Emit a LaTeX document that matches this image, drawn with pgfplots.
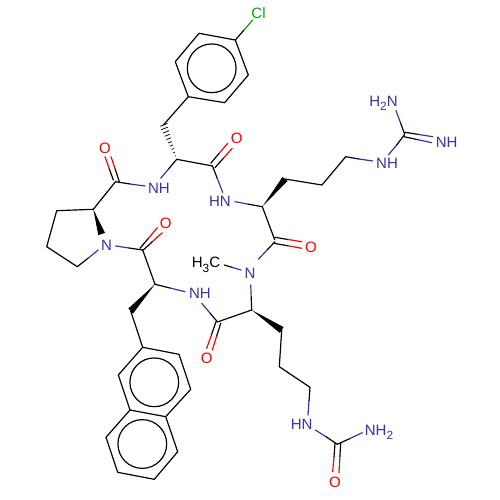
\documentclass[border=0pt]{standalone}
\usepackage{fontspec}
\setmainfont{Liberation Sans}
\usepackage{pgfplots}
\pgfplotsset{compat=1.18}
\definecolor{atomN}{RGB}{51,51,170}
\definecolor{atomO}{RGB}{255,0,0}
\definecolor{atomCl}{RGB}{0,170,0}
\pgfplotsset{
  bk/.style={black,line width=0.95pt,line cap=round,line join=round},
  bl/.style={atomN,line width=0.95pt,line cap=round},
  rd/.style={atomO,line width=0.95pt,line cap=round},
  gr/.style={atomCl,line width=0.95pt,line cap=round},
  hs/.style={black,line width=0.6pt},
  wedge/.style={black,fill=black,draw=none},
  ring/.style={only marks,mark=o,mark size=#1,mark options={black,line width=0.95pt}},
}
\newcommand{\lab}[4]{\node[text=#3,anchor=base,inner sep=0pt,font=\fontsize{12}{12}\selectfont] at (axis cs:#1,#2) {#4};}
\newcommand{\sub}[1]{\raisebox{-0.28em}{\fontsize{9.5}{10}\selectfont #1}}
\begin{document}
\begin{tikzpicture}
\begin{axis}[
  scale only axis, width=400pt, height=400pt,
  xmin=0, xmax=500, ymin=0, ymax=500, y dir=reverse,
  hide axis, clip=false
]
% keeps the page at the full 500x500 frame
\path (axis cs:0,0) rectangle (axis cs:500,500);
% chlorophenyl
\addplot[bk] coordinates {(235.3,40) (199,33.3) (175.3,61.7) (188.3,96.7) (224.7,102.7) (248.3,75) (235.3,40)};
\addplot[ring=19.5pt] coordinates {(211.7,68.3)};
\addplot[bk] coordinates {(235.3,40) (244,30)};
\addplot[gr] coordinates {(244,30) (252.7,20)};
\lab{258.5}{18.7}{atomCl}{Cl}
% CH2 and hashed bond
\addplot[bk] coordinates {(188.3,96.7) (163.4,125)};
\addplot[hs] coordinates {(175.0,156.0) (175.8,155.7)};
\addplot[hs] coordinates {(173.3,152.7) (174.8,152.1)};
\addplot[hs] coordinates {(171.6,149.4) (173.8,148.6)};
\addplot[hs] coordinates {(169.8,146.2) (172.8,145.0)};
\addplot[hs] coordinates {(168.1,142.9) (171.9,141.5)};
\addplot[hs] coordinates {(166.5,139.6) (170.9,137.8)};
\addplot[hs] coordinates {(164.7,136.3) (169.9,134.3)};
\addplot[hs] coordinates {(163.0,133.1) (169.0,130.7)};
\addplot[hs] coordinates {(161.2,129.7) (168.0,127.1)};
\addplot[hs] coordinates {(160.2,126.3) (167.6,123.3)};
% first amide C=O and HN
\addplot[bk] coordinates {(176.7,159.3) (212.5,166)};
\addplot[bk] coordinates {(210.7,163.3) (219.2,153.3)};
\addplot[rd] coordinates {(219.2,153.3) (227.7,143.3)};
\addplot[bk] coordinates {(215,167.7) (223.6,158)};
\addplot[rd] coordinates {(223.6,158) (232.3,148.3)};
\lab{236.7}{143.6}{atomO}{O}
\addplot[bk] coordinates {(212.5,166) (217.3,178.5)};
\addplot[bl] coordinates {(217.3,178.5) (222.7,192.3)};
\lab{220}{206.3}{atomN}{HN}
\addplot[bl] coordinates {(235,201.7) (248.5,204.2)};
\addplot[bk] coordinates {(248.5,204.2) (262.3,206.7)};
% guanidine chain
\addplot[wedge] coordinates {(262.3,206.7) (287.5,181) (282.5,177) (262.3,206.7)};
\addplot[bk] coordinates {(285,179) (322,185) (345.7,156.7) (359,159)};
\addplot[bl] coordinates {(359,159) (372.7,161)};
\lab{387}{168.6}{atomN}{NH}
\addplot[bl] coordinates {(388.3,155) (396.7,145)};
\addplot[bk] coordinates {(396.7,145) (404.7,134.3)};
\addplot[bl] coordinates {(396,110.7) (400.7,123.3)};
\addplot[bk] coordinates {(400.7,123.3) (404.7,134.3)};
\lab{383.5}{106}{atomN}{H\sub{2}N}
\addplot[bk] coordinates {(405,132.3) (419,134.5)};
\addplot[bl] coordinates {(419,134.5) (432.7,136.7)};
\addplot[bk] coordinates {(404,136.7) (418,139.7)};
\addplot[bl] coordinates {(418,139.7) (431.7,142.7)};
\lab{446.7}{147}{atomN}{NH}
% second carbonyl and N-methyl
\addplot[bk] coordinates {(262.3,206.7) (274.7,239.7)};
\addplot[bk] coordinates {(275,237.3) (288,239.5)};
\addplot[rd] coordinates {(288,239.5) (301.7,241.7)};
\addplot[bk] coordinates {(274,243.3) (288,245.8)};
\addplot[rd] coordinates {(288,245.8) (301.7,248.3)};
\lab{311}{252}{atomO}{O}
\addplot[bk] coordinates {(275,241.7) (266.6,250.5)};
\addplot[bl] coordinates {(266.6,250.5) (258.3,259.3)};
\lab{250}{278.6}{atomN}{N}
\addplot[bk] coordinates {(224.3,265) (232.6,267.5)};
\addplot[bl] coordinates {(232.6,267.5) (241,270)};
\lab{206}{267.8}{black}{H\sub{3}C}
\addplot[bl] coordinates {(250.7,285) (251.2,297)};
\addplot[bk] coordinates {(251.2,297) (251.7,310)};
% urea chain
\addplot[wedge] coordinates {(251.7,310) (279.8,332.9) (283.6,327.1) (251.7,310)};
\addplot[bk] coordinates {(281.7,330) (279.3,366.7) (310,387.3) (309,401)};
\addplot[bl] coordinates {(309,401) (308,415)};
\lab{301.7}{429.7}{atomN}{HN}
\addplot[bl] coordinates {(315.3,430) (326,436.7)};
\addplot[bk] coordinates {(326,436.7) (337.3,444.3)};
\addplot[bk] coordinates {(337.3,444.3) (350,438.5)};
\addplot[bl] coordinates {(350,438.5) (362.3,432.7)};
\lab{379}{435.5}{atomN}{NH\sub{2}}
\addplot[bk] coordinates {(335,443.3) (334,457)};
\addplot[rd] coordinates {(334,457) (332.7,471.7)};
\addplot[bk] coordinates {(340.7,443.3) (339.9,457)};
\addplot[rd] coordinates {(339.9,457) (339,472.7)};
\lab{335}{487}{atomO}{O}
% third carbonyl
\addplot[bk] coordinates {(251.7,310) (217.3,322)};
\addplot[bk] coordinates {(216,321.7) (211.4,335)};
\addplot[rd] coordinates {(211.4,335) (206.7,348.3)};
\addplot[bk] coordinates {(220.7,323.3) (216.5,336.6)};
\addplot[rd] coordinates {(216.5,336.6) (212.3,350)};
\lab{206.7}{363.6}{atomO}{O}
\addplot[bk] coordinates {(217.3,321.7) (209.5,312.5)};
\addplot[bl] coordinates {(209.5,312.5) (201.7,303.3)};
\lab{200}{298.6}{atomN}{NH}
\addplot[bl] coordinates {(185,291.7) (170,288)};
\addplot[bk] coordinates {(170,288) (155,284.3)};
% naphthyl
\addplot[wedge] coordinates {(155,284.3) (133,313.6) (128.4,308.4) (155,284.3)};
\addplot[bk] coordinates {(130.7,311) (142.7,347.3)};
\addplot[bk] coordinates {(142.7,347.3) (179,354.3) (190.7,389.3) (165.7,416.7) (130,410) (118.3,375) (142.7,347.3)};
\addplot[bk] coordinates {(130,410) (106,437.3) (117.7,472.3) (154.3,479.3) (177.7,451.7) (165.7,416.7)};
\addplot[ring=19.5pt] coordinates {(154.3,382.3)};
\addplot[ring=19.5pt] coordinates {(142.3,444)};
% fourth carbonyl, proline N
\addplot[bk] coordinates {(155,284.3) (142.7,250)};
\addplot[bk] coordinates {(140,248.3) (148.7,238)};
\addplot[rd] coordinates {(148.7,238) (157.3,227.7)};
\addplot[bk] coordinates {(143.3,250) (152.8,241.3)};
\addplot[rd] coordinates {(152.8,241.3) (162.3,232.7)};
\lab{165.7}{228}{atomO}{O}
\addplot[bl] coordinates {(115.7,246) (129,248)};
\addplot[bk] coordinates {(129,248) (142.7,250)};
\lab{106.5}{250.3}{atomN}{N}
% proline ring
\addplot[wedge] coordinates {(93.3,209.3) (105,232.9) (98.3,235.1) (93.3,209.3)};
\addplot[bk] coordinates {(93.3,209.3) (56.7,210.7) (46.7,246.7) (77.3,266.7) (88,258.3)};
\addplot[bl] coordinates {(88,258.3) (98.3,250)};
% last amide
\addplot[bk] coordinates {(93.3,209.3) (115.5,181.7)};
\addplot[bk] coordinates {(113.3,180) (109.2,168.5)};
\addplot[rd] coordinates {(109.2,168.5) (105,156.7)};
\addplot[bk] coordinates {(119.3,181.7) (115.2,169)};
\addplot[rd] coordinates {(115.2,169) (111,156.7)};
\lab{105}{153}{atomO}{O}
\addplot[bk] coordinates {(115.5,181.7) (130,184)};
\addplot[bl] coordinates {(130,184) (145,186)};
\lab{159}{193}{atomN}{NH}
\addplot[bl] coordinates {(160.7,178.3) (168.7,168.8)};
\addplot[bk] coordinates {(168.7,168.8) (176.7,159.3)};
\end{axis}
\end{tikzpicture}
\end{document}
